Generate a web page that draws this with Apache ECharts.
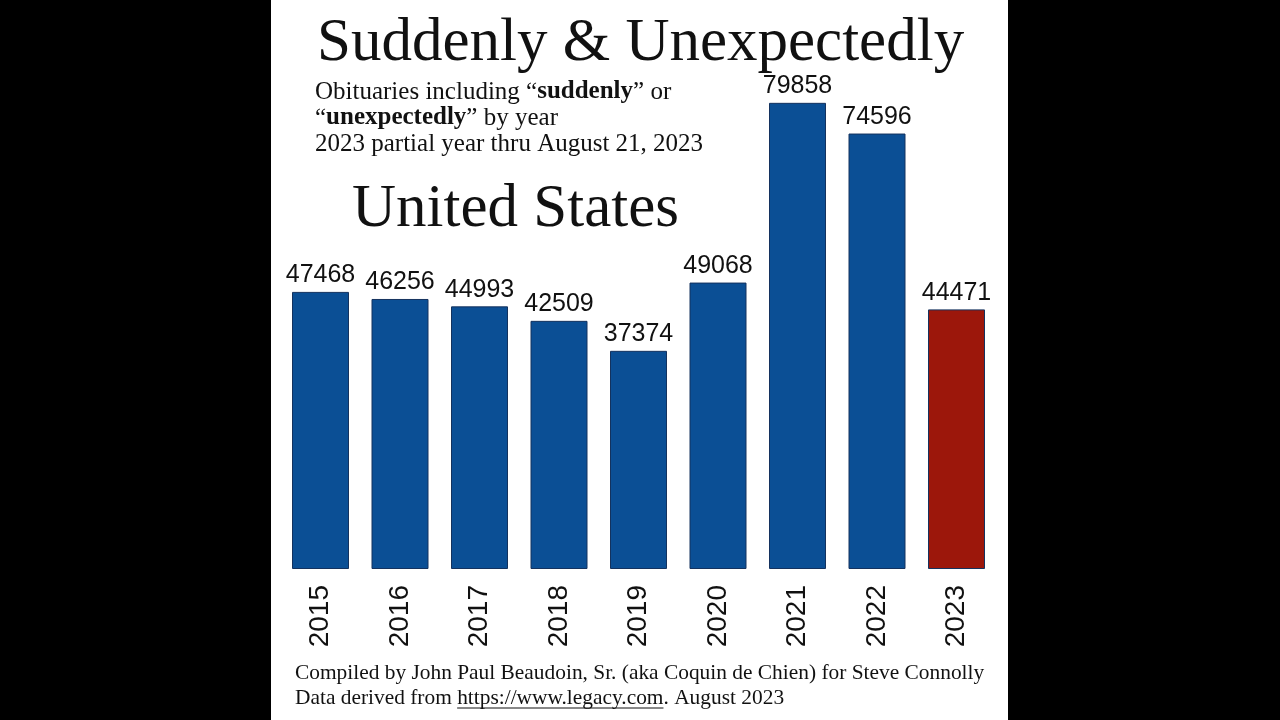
<!DOCTYPE html>
<html>
<head>
<meta charset="utf-8">
<script src="https://cdn.jsdelivr.net/npm/echarts@6/dist/echarts.min.js"></script>
<style>
  html, body { margin: 0; padding: 0; background: #000; width: 1280px; height: 720px; overflow: hidden; }
  #chart { position: absolute; left: 271px; top: 0; width: 737px; height: 720px; background: #fff; }
</style>
</head>
<body>
<div id="chart"></div>
<script>
// ---- data ----
const years = ['2015', '2016', '2017', '2018', '2019', '2020', '2021', '2022', '2023'];
const counts = [47468, 46256, 44993, 42509, 37374, 49068, 79858, 74596, 44471];
const partialYear = '2023';

const titleText = 'Suddenly & Unexpectedly';
const regionText = 'United States';
const footerLine1 = 'Compiled by John Paul Beaudoin, Sr. (aka Coquin de Chien) for Steve Connolly';
const footerPrefix = 'Data derived from ';
const footerUrl = 'https://www.legacy.com';
const footerSuffix = '. August 2023';

const BLUE = '#0b4f95';
const RED = '#9c170b';
const SERIF = '"Liberation Serif", "Times New Roman", Times, serif';
const SANS = '"Liberation Sans", Arial, Helvetica, sans-serif';

const chart = echarts.init(document.getElementById('chart'), null, { renderer: 'canvas' });

// measure footer text to place underline under URL
const ctx = document.createElement('canvas').getContext('2d');
const footFs = 21.4;
ctx.font = footFs + 'px ' + SERIF;
const prefixW = ctx.measureText(footerPrefix).width;
const urlW = ctx.measureText(footerUrl).width;
const footX = 24;
const foot2Top = 688;

const option = {
  animation: false,
  backgroundColor: '#ffffff',
  grid: { left: 9.75, width: 715.5, top: 102, height: 467, containLabel: false },
  xAxis: {
    type: 'category',
    data: years,
    axisLine: { show: false },
    axisTick: { show: false },
    axisLabel: {
      rotate: 90,
      margin: 16,
      color: '#111',
      fontFamily: SANS,
      fontSize: 28
    }
  },
  yAxis: {
    type: 'value',
    min: 0,
    max: 80000,
    show: false,
    splitLine: { show: false }
  },
  series: [{
    type: 'bar',
    barWidth: 57,
    data: counts.map((v, i) => ({
      value: v,
      itemStyle: { color: years[i] === partialYear ? RED : BLUE }
    })),
    itemStyle: { borderColor: '#14325e', borderWidth: 1 },
    label: {
      show: true,
      position: 'top',
      distance: 4,
      color: '#111',
      fontFamily: SANS,
      fontSize: 25
    }
  }],
  graphic: [
    {
      type: 'text', left: 46, top: 13,
      style: { text: titleText, font: '61px ' + SERIF, fill: '#111' }
    },
    {
      type: 'text', left: 44, top: 79,
      style: {
        text: 'Obituaries including “{b|suddenly}” or\n“{b|unexpectedly}” by year\n2023 partial year thru August 21, 2023',
        font: '25px ' + SERIF,
        fill: '#111',
        lineHeight: 26,
        rich: {
          b: { fontFamily: SERIF, fontSize: 25, fontWeight: 'bold', fill: '#111', lineHeight: 26 }
        }
      }
    },
    {
      type: 'text', left: 81, top: 179,
      style: { text: regionText, font: '61px ' + SERIF, fill: '#111' }
    },
    {
      type: 'text', left: footX, top: 663,
      style: { text: footerLine1, font: footFs + 'px ' + SERIF, fill: '#111' }
    },
    {
      type: 'text', left: footX, top: foot2Top,
      style: { text: footerPrefix + footerUrl + footerSuffix, font: footFs + 'px ' + SERIF, fill: '#111' }
    },
    {
      type: 'line',
      shape: { x1: footX + prefixW, y1: foot2Top + 20, x2: footX + prefixW + urlW, y2: foot2Top + 20 },
      style: { stroke: '#111', lineWidth: 1 }
    }
  ]
};
chart.setOption(option);
</script>
</body>
</html>
